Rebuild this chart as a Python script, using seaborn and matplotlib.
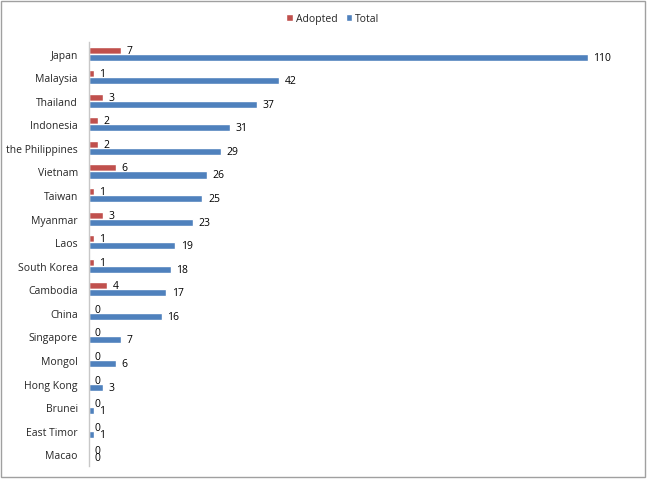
import pandas as pd
import numpy as np
import matplotlib.pyplot as plt
import seaborn as sns

countries = ["Japan", "Malaysia", "Thailand", "Indonesia", "the Philippines", "Vietnam",
             "Taiwan", "Myanmar", "Laos", "South Korea", "Cambodia", "China",
             "Singapore", "Mongol", "Hong Kong", "Brunei", "East Timor", "Macao"]
adopted = [7, 1, 3, 2, 2, 6, 1, 3, 1, 1, 4, 0, 0, 0, 0, 0, 0, 0]
total = [110, 42, 37, 31, 29, 26, 25, 23, 19, 18, 17, 16, 7, 6, 3, 1, 1, 0]

df = pd.DataFrame({
    "Country": countries * 2,
    "Value": adopted + total,
    "Series": ["Adopted"] * len(countries) + ["Total"] * len(countries),
})

sns.set_style("white")
plt.rcParams["font.family"] = ["Open Sans", "DejaVu Sans"]

fig = plt.figure(figsize=(6.5, 4.81), dpi=100)
ax = fig.add_axes([0.137, 0.029, 0.83, 0.882])

sns.barplot(data=df, x="Value", y="Country", hue="Series", orient="h",
            hue_order=["Adopted", "Total"], palette=["#C0504D", "#4F81BD"],
            width=0.6, ax=ax, saturation=1)

for c in ax.containers:
    ax.bar_label(c, padding=4, fontsize=7.5, color="black")

ax.set_xlim(0, 119)
ax.set_ylim(17.5, -0.5)
ax.set_xlabel("")
ax.set_ylabel("")
ax.set_xticks([])
ax.tick_params(axis="y", length=0, labelsize=7.5, pad=8)
for s in ["top", "right", "bottom"]:
    ax.spines[s].set_visible(False)
ax.spines["left"].set_color("#c8c8c8")
ax.spines["left"].set_linewidth(1)

ax.legend(loc="upper center", bbox_to_anchor=(0.452, 1.09), ncol=2, frameon=False,
          fontsize=7.5, handlelength=0.6, handleheight=0.6, handletextpad=0.3,
          columnspacing=0.8)

fig.patches.append(plt.Rectangle((0.002, 0.006), 0.99, 0.99, transform=fig.transFigure,
                                 fill=False, edgecolor="#a0a0a0", linewidth=1))

fig.savefig("out.png", dpi=100)
